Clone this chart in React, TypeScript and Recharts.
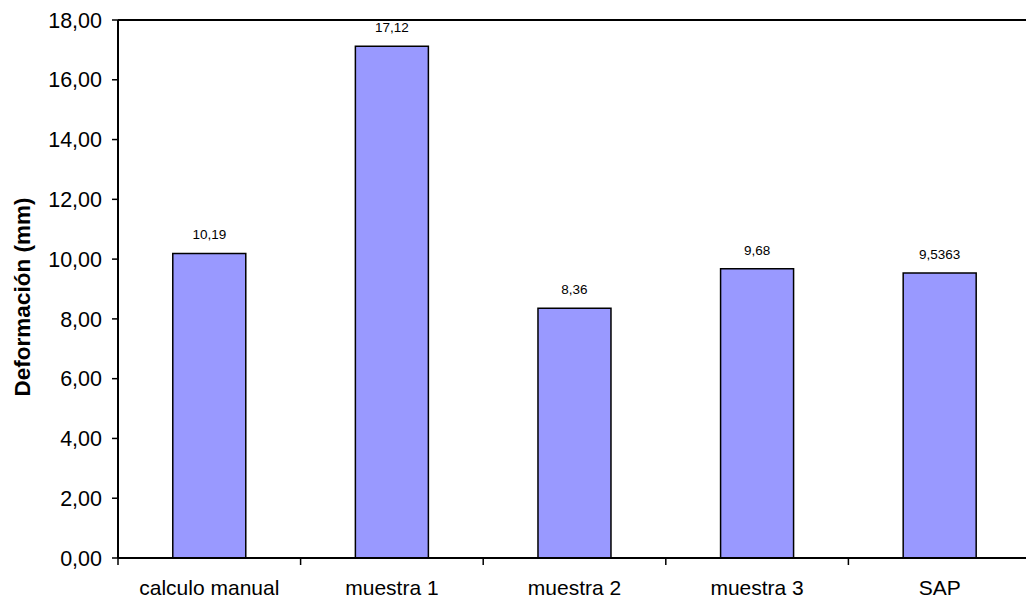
import React from 'react'
import { BarChart, Bar, XAxis, YAxis, LabelList, ReferenceLine } from 'recharts'

const categories = ['calculo manual', 'muestra 1', 'muestra 2', 'muestra 3', 'SAP']
const deformacion = [10.19, 17.12, 8.36, 9.68, 9.5363]
const yTicks = [0, 2, 4, 6, 8, 10, 12, 14, 16, 18]

const data = categories.map((name, i) => ({ name, value: deformacion[i] }))

const FONT = '"Liberation Sans", Arial, sans-serif'

const comma = (v: number, digits?: number) =>
  (digits === undefined ? String(v) : v.toFixed(digits)).replace('.', ',')

// category label plus a tick mark on the left boundary of each band (Excel style)
function CategoryTick(props: any) {
  const { x, y, payload, index } = props
  const half = payload?.offset ?? 0
  const axisY = y - 22
  return (
    <g>
      <line x1={x - half} y1={axisY} x2={x - half} y2={axisY + 7} stroke="#000" strokeWidth={1.5} />
      {index === categories.length - 1 && (
        <line x1={x + half} y1={axisY} x2={x + half} y2={axisY + 7} stroke="#000" strokeWidth={1.5} />
      )}
      <text x={x} y={y} dy="0.71em" textAnchor="middle" fontSize={21} fill="#000" fontFamily={FONT}>
        {payload.value}
      </text>
    </g>
  )
}

function YTitle(props: any) {
  const { viewBox } = props
  const cx = viewBox.x + 22
  const cy = viewBox.y + viewBox.height / 2 + 8
  return (
    <text
      x={cx}
      y={cy}
      transform={`rotate(-90, ${cx}, ${cy})`}
      textAnchor="middle"
      dominantBaseline="central"
      fontSize={22.5}
      fontWeight="bold"
      fill="#000"
      fontFamily={FONT}
    >
      Deformación (mm)
    </text>
  )
}

export default function App() {
  return (
    <div style={{ position: 'fixed', left: 0, top: 0, width: 1026, height: 602, overflow: 'hidden', background: '#fff' }}>
      <BarChart
        width={1040}
        height={602}
        data={data}
        margin={{ top: 20, right: 9, bottom: 0, left: 0 }}
        barCategoryGap="30%"
      >
        <XAxis
          dataKey="name"
          height={44}
          axisLine={{ stroke: '#000', strokeWidth: 2 }}
          tickLine={false}
          tickSize={6}
          tickMargin={16}
          interval={0}
          tick={<CategoryTick />}
        />
        <YAxis
          width={118}
          domain={[0, 18]}
          ticks={yTicks}
          interval={0}
          tickFormatter={(v: number) => comma(v, 2)}
          axisLine={{ stroke: '#000', strokeWidth: 2 }}
          tickLine={{ stroke: '#000', strokeWidth: 1.5 }}
          tickSize={6}
          tickMargin={10}
          tick={{ fontSize: 21.5, fill: '#000', fontFamily: FONT }}
          label={<YTitle />}
        />
        <ReferenceLine y={18} stroke="#000" strokeWidth={2} />
        <Bar dataKey="value" fill="#9999FF" stroke="#000" strokeWidth={1.5} isAnimationActive={false}>
          <LabelList
            dataKey="value"
            position="top"
            offset={14}
            formatter={(v: any) => comma(Number(v))}
            style={{ fontSize: 13.5, fill: '#000', fontFamily: FONT }}
          />
        </Bar>
      </BarChart>
    </div>
  )
}
